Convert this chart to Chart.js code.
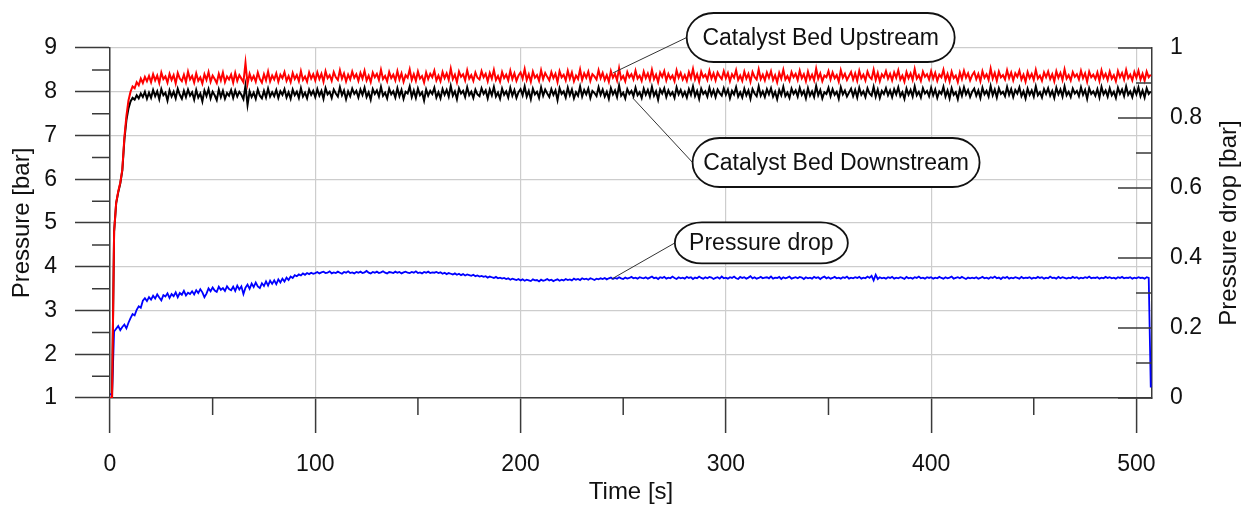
<!DOCTYPE html>
<html>
<head>
<meta charset="utf-8">
<script src="https://cdn.jsdelivr.net/npm/chart.js@4.4.1/dist/chart.umd.min.js"></script>
<style>
  html, body { margin: 0; padding: 0; background: #fff; }
  canvas { display: block; }
</style>
</head>
<body>
<canvas id="chart" width="1243" height="507"></canvas>
<script>
// sample times [s]
const seconds = [
  0,1,2,3,4,5,6,7,8,9,10,11,12,13,14,15,16,17,18,19,
  20,21,22,23,24,25,26,27,28,29,30,31,32,33,34,35,36,37,38,39,
  40,41,42,43,44,45,46,47,48,49,50,51,52,53,54,55,56,57,58,59,
  60,61,62,63,64,65,66,67,68,69,70,71,72,73,74,75,76,77,78,79,
  80,81,82,83,84,85,86,87,88,89,90,91,92,93,94,95,96,97,98,99,
  100,101,102,103,104,105,106,107,108,109,110,111,112,113,114,115,116,117,118,119,
  120,121,122,123,124,125,126,127,128,129,130,131,132,133,134,135,136,137,138,139,
  140,141,142,143,144,145,146,147,148,149,150,151,152,153,154,155,156,157,158,159,
  160,161,162,163,164,165,166,167,168,169,170,171,172,173,174,175,176,177,178,179,
  180,181,182,183,184,185,186,187,188,189,190,191,192,193,194,195,196,197,198,199,
  200,201,202,203,204,205,206,207,208,209,210,211,212,213,214,215,216,217,218,219,
  220,221,222,223,224,225,226,227,228,229,230,231,232,233,234,235,236,237,238,239,
  240,241,242,243,244,245,246,247,248,249,250,251,252,253,254,255,256,257,258,259,
  260,261,262,263,264,265,266,267,268,269,270,271,272,273,274,275,276,277,278,279,
  280,281,282,283,284,285,286,287,288,289,290,291,292,293,294,295,296,297,298,299,
  300,301,302,303,304,305,306,307,308,309,310,311,312,313,314,315,316,317,318,319,
  320,321,322,323,324,325,326,327,328,329,330,331,332,333,334,335,336,337,338,339,
  340,341,342,343,344,345,346,347,348,349,350,351,352,353,354,355,356,357,358,359,
  360,361,362,363,364,365,366,367,368,369,370,371,372,373,374,375,376,377,378,379,
  380,381,382,383,384,385,386,387,388,389,390,391,392,393,394,395,396,397,398,399,
  400,401,402,403,404,405,406,407,408,409,410,411,412,413,414,415,416,417,418,419,
  420,421,422,423,424,425,426,427,428,429,430,431,432,433,434,435,436,437,438,439,
  440,441,442,443,444,445,446,447,448,449,450,451,452,453,454,455,456,457,458,459,
  460,461,462,463,464,465,466,467,468,469,470,471,472,473,474,475,476,477,478,479,
  480,481,482,483,484,485,486,487,488,489,490,491,492,493,494,495,496,497,498,499,
  500,501,502,503,504,505,506,507
];

// Catalyst Bed Upstream pressure [bar]
const upstream = [
  1.00,1.00,4.80,5.46,5.72,5.92,6.22,6.95,7.45,7.80,
  8.00,8.12,8.08,8.22,8.15,8.30,8.20,8.34,8.24,8.36,
  8.22,8.40,8.26,8.37,8.20,8.44,8.29,8.35,8.21,8.41,8.27,8.38,8.19,8.43,8.30,8.24,8.39,8.22,8.46,8.28,
  8.36,8.21,8.42,8.25,8.33,8.19,8.40,8.27,8.45,8.23,8.37,8.29,8.20,8.41,8.26,8.44,8.22,8.35,8.28,8.39,
  8.21,8.43,8.25,8.38,8.30,8.22,8.66,8.18,8.41,8.27,8.36,8.23,8.44,8.29,8.21,8.40,8.26,8.46,8.24,8.37,
  8.28,8.42,8.23,8.39,8.31,8.45,8.25,8.36,8.22,8.43,8.29,8.38,8.24,8.47,8.27,8.35,8.23,8.44,8.30,8.40,
  8.26,8.44,8.29,8.41,8.23,8.47,8.31,8.38,8.25,8.45,8.33,8.27,8.49,8.30,8.42,8.24,8.39,8.28,8.46,8.32,
  8.40,8.25,8.43,8.30,8.48,8.26,8.37,8.22,8.44,8.33,8.41,8.27,8.50,8.29,8.36,8.24,8.45,8.31,8.39,8.26,
  8.47,8.28,8.42,8.23,8.38,8.32,8.51,8.27,8.40,8.25,8.46,8.30,8.36,8.21,8.44,8.29,8.41,8.33,8.48,8.26,
  8.37,8.24,8.45,8.31,8.42,8.27,8.53,8.29,8.39,8.22,8.46,8.34,8.40,8.26,8.49,8.30,8.38,8.25,8.44,8.32,
  8.28,8.47,8.33,8.41,8.24,8.43,8.30,8.50,8.27,8.36,8.23,8.45,8.31,8.39,8.26,8.48,8.29,8.42,8.25,8.37,
  8.44,8.30,8.52,8.27,8.40,8.23,8.46,8.32,8.38,8.25,8.49,8.29,8.43,8.34,8.26,8.45,8.31,8.41,8.22,8.47,
  8.33,8.39,8.26,8.48,8.30,8.44,8.24,8.37,8.29,8.51,8.27,8.42,8.32,8.46,8.25,8.40,8.35,8.28,8.49,8.31,
  8.43,8.27,8.38,8.23,8.47,8.32,8.41,8.26,8.54,8.29,8.36,8.24,8.45,8.33,8.40,8.28,8.48,8.30,8.37,8.25,
  8.46,8.31,8.42,8.27,8.50,8.29,8.39,8.22,8.44,8.34,8.47,8.26,8.41,8.30,8.37,8.24,8.49,8.32,8.43,8.28,
  8.38,8.25,8.45,8.31,8.52,8.28,8.40,8.23,8.46,8.33,8.39,8.27,8.48,8.30,8.42,8.26,8.44,8.35,8.29,8.47,
  8.31,8.43,8.24,8.40,8.32,8.49,8.27,8.37,8.25,8.46,8.30,8.41,8.23,8.45,8.34,8.28,8.51,8.29,8.39,8.26,
  8.44,8.32,8.47,8.27,8.38,8.22,8.43,8.30,8.50,8.28,8.36,8.25,8.45,8.33,8.41,8.27,8.48,8.31,8.40,8.24,
  8.46,8.29,8.39,8.26,8.53,8.30,8.42,8.24,8.37,8.33,8.47,8.28,8.44,8.31,8.38,8.23,8.49,8.32,8.41,8.27,
  8.36,8.45,8.28,8.42,8.25,8.48,8.31,8.39,8.26,8.46,8.34,8.29,8.50,8.27,8.43,8.24,8.40,8.33,8.47,8.30,
  8.41,8.26,8.44,8.32,8.49,8.28,8.37,8.23,8.45,8.31,8.42,8.27,8.52,8.30,8.38,8.25,8.46,8.34,8.40,8.28,
  8.47,8.30,8.43,8.25,8.39,8.33,8.50,8.27,8.41,8.24,8.46,8.31,8.37,8.22,8.44,8.29,8.48,8.32,8.42,8.26,
  8.38,8.45,8.29,8.41,8.24,8.47,8.32,8.40,8.27,8.53,8.30,8.43,8.25,8.46,8.33,8.38,8.28,8.49,8.31,8.44,
  8.26,8.42,8.34,8.48,8.28,8.39,8.23,8.45,8.31,8.41,8.27,8.50,8.30,8.37,8.25,8.44,8.33,8.46,8.29,8.40,
  8.24,8.47,8.32,8.43,8.27,8.51,8.30,8.38,8.26,8.45,8.34,8.40,8.28,8.48,8.31,8.42,8.23,8.46,8.33,8.39,
  8.29,8.44,8.25,8.49,8.32,8.41,8.27,8.46,8.30,8.38,8.24,8.47,8.33,8.43,8.28,8.50,8.31,8.39,8.26,8.45,
  8.32,8.48,8.28,8.41,8.25,8.46,8.33,8.39
];

// Catalyst Bed Downstream pressure [bar]
const downstream = [
  1.00,1.00,4.80,5.45,5.70,5.90,6.20,6.90,7.35,7.62,
  7.78,7.86,7.82,7.92,7.85,7.96,7.88,8.00,7.84,7.98,
  7.86,8.04,7.90,8.01,7.83,8.06,7.92,7.98,7.80,8.03,7.89,8.00,7.85,8.07,7.93,7.84,8.02,7.88,8.05,7.91,
  7.99,7.82,8.04,7.87,7.96,7.78,8.03,7.90,8.06,7.85,8.00,7.92,7.81,8.05,7.88,8.02,7.84,7.97,7.91,8.04,
  7.86,8.03,7.89,8.00,7.93,7.83,8.14,7.70,8.01,7.88,7.98,7.84,8.05,7.91,7.85,8.02,7.87,8.07,7.89,7.99,
  7.90,8.04,7.86,8.01,7.93,8.06,7.87,7.99,7.84,8.05,7.92,8.00,7.86,8.08,7.89,7.98,7.85,8.05,7.93,8.02,
  7.88,8.06,7.91,8.02,7.84,8.08,7.94,8.00,7.86,8.05,7.96,7.89,8.10,7.92,8.03,7.83,8.01,7.90,8.07,7.95,
  8.02,7.87,8.05,7.93,8.09,7.88,7.99,7.82,8.06,7.95,8.03,7.89,8.11,7.91,7.98,7.85,8.07,7.94,8.01,7.87,
  8.08,7.90,8.04,7.84,8.00,7.96,8.12,7.88,8.03,7.86,8.07,7.92,7.99,7.80,8.05,7.91,8.02,7.95,8.09,7.87,
  7.99,7.85,8.06,7.93,8.04,7.89,8.13,7.91,8.01,7.83,8.08,7.96,8.02,7.88,8.10,7.92,8.00,7.86,8.05,7.94,
  7.90,8.08,7.95,8.03,7.85,8.05,7.92,8.11,7.89,7.98,7.84,8.07,7.93,8.01,7.87,8.09,7.91,8.04,7.86,7.99,
  8.06,7.92,8.12,7.89,8.02,7.83,8.07,7.94,8.00,7.86,8.10,7.91,8.05,7.96,7.88,8.06,7.93,8.03,7.81,8.08,
  7.95,8.01,7.87,8.09,7.92,8.05,7.85,7.99,7.91,8.12,7.89,8.04,7.94,8.07,7.86,8.02,7.97,7.90,8.10,7.93,
  8.05,7.89,8.00,7.84,8.08,7.94,8.03,7.88,8.14,7.91,7.98,7.85,8.06,7.95,8.02,7.90,8.09,7.92,7.99,7.86,
  8.07,7.93,8.04,7.89,8.11,7.91,8.01,7.82,8.05,7.96,8.08,7.88,8.03,7.92,7.99,7.86,8.10,7.94,8.04,7.90,
  8.00,7.87,8.06,7.93,8.12,7.90,8.02,7.84,8.07,7.95,8.01,7.89,8.09,7.92,8.04,7.88,8.05,7.97,7.91,8.08,
  7.93,8.05,7.85,8.02,7.94,8.10,7.89,7.99,7.87,8.07,7.92,8.03,7.84,8.06,7.96,7.90,8.12,7.91,8.01,7.88,
  8.06,7.94,8.08,7.89,8.00,7.83,8.04,7.92,8.11,7.90,7.98,7.86,8.07,7.95,8.03,7.89,8.09,7.93,8.02,7.85,
  8.08,7.91,8.01,7.88,8.13,7.92,8.04,7.85,7.99,7.95,8.09,7.90,8.06,7.93,8.00,7.84,8.10,7.94,8.03,7.89,
  7.98,8.07,7.90,8.04,7.87,8.09,7.93,8.01,7.88,8.08,7.96,7.91,8.11,7.89,8.05,7.86,8.02,7.95,8.08,7.92,
  8.03,7.88,8.06,7.94,8.10,7.90,7.99,7.84,8.07,7.93,8.04,7.89,8.12,7.92,8.00,7.87,8.08,7.96,8.02,7.90,
  8.09,7.92,8.05,7.86,8.01,7.95,8.11,7.89,8.03,7.85,8.08,7.93,7.99,7.83,8.06,7.91,8.10,7.94,8.04,7.88,
  8.00,8.07,7.91,8.03,7.86,8.09,7.94,8.02,7.89,8.13,7.92,8.05,7.87,8.08,7.95,8.00,7.90,8.11,7.93,8.06,
  7.88,8.04,7.96,8.10,7.90,8.01,7.85,8.07,7.93,8.03,7.89,8.12,7.92,7.99,7.87,8.06,7.95,8.08,7.91,8.02,
  7.86,8.09,7.94,8.05,7.89,8.12,7.92,8.00,7.88,8.07,7.96,8.02,7.90,8.10,7.93,8.04,7.84,8.08,7.95,8.01,
  7.91,8.06,7.87,8.11,7.94,8.03,7.89,8.08,7.92,8.00,7.86,8.09,7.95,8.05,7.90,8.12,7.93,8.01,7.88,8.07,
  7.94,8.10,7.90,8.03,7.87,8.08,7.95,8.01
];

// pressure drop [bar], right axis
const pressureDrop = [
  0.010,0.012,0.190,0.198,0.206,0.194,0.203,0.210,0.199,0.215,0.228,0.240,0.236,0.252,0.262,0.258,0.278,0.285,0.277,0.288,
  0.281,0.292,0.284,0.296,0.287,0.279,0.294,0.290,0.299,0.286,0.297,0.291,0.302,0.288,0.300,0.295,0.306,0.293,0.301,0.297,
  0.305,0.296,0.308,0.300,0.311,0.302,0.288,0.298,0.313,0.305,0.316,0.307,0.303,0.318,0.309,0.314,0.306,0.319,0.311,0.308,
  0.318,0.306,0.321,0.310,0.319,0.297,0.315,0.324,0.312,0.327,0.317,0.330,0.319,0.314,0.328,0.320,0.333,0.321,0.335,0.326,
  0.336,0.325,0.339,0.330,0.341,0.333,0.344,0.337,0.347,0.343,0.351,0.348,0.353,0.350,0.356,0.352,0.357,0.354,0.358,0.355,
  0.357,0.360,0.356,0.359,0.361,0.357,0.358,0.362,0.356,0.359,0.357,0.361,0.358,0.355,0.360,0.358,0.362,0.357,0.359,0.356,
  0.360,0.358,0.361,0.357,0.359,0.363,0.358,0.356,0.360,0.358,0.361,0.357,0.359,0.362,0.358,0.356,0.360,0.359,0.357,0.361,
  0.358,0.360,0.356,0.359,0.361,0.358,0.357,0.360,0.358,0.362,0.357,0.359,0.356,0.360,0.358,0.361,0.357,0.359,0.358,0.360,
  0.357,0.359,0.355,0.358,0.354,0.357,0.355,0.353,0.356,0.352,0.355,0.351,0.354,0.350,0.353,0.351,0.349,0.352,0.348,0.350,
  0.347,0.349,0.346,0.348,0.344,0.347,0.345,0.343,0.346,0.342,0.344,0.341,0.343,0.340,0.342,0.338,0.341,0.339,0.337,0.340,
  0.336,0.339,0.335,0.338,0.336,0.334,0.339,0.336,0.337,0.333,0.338,0.335,0.337,0.340,0.336,0.338,0.334,0.337,0.339,0.335,
  0.338,0.336,0.340,0.337,0.339,0.336,0.341,0.338,0.340,0.337,0.342,0.339,0.341,0.338,0.342,0.340,0.337,0.341,0.339,0.342,
  0.340,0.343,0.339,0.342,0.344,0.340,0.343,0.341,0.345,0.342,0.340,0.344,0.341,0.343,0.346,0.342,0.344,0.341,0.345,0.343,
  0.342,0.345,0.341,0.344,0.347,0.342,0.344,0.340,0.345,0.343,0.346,0.341,0.344,0.342,0.347,0.343,0.340,0.345,0.342,0.344,
  0.341,0.346,0.343,0.345,0.340,0.344,0.342,0.347,0.343,0.341,0.345,0.342,0.346,0.344,0.340,0.343,0.345,0.341,0.347,0.342,
  0.344,0.341,0.345,0.343,0.347,0.342,0.340,0.346,0.343,0.345,0.341,0.344,0.348,0.342,0.345,0.341,0.343,0.346,0.342,0.344,
  0.345,0.342,0.347,0.341,0.344,0.343,0.346,0.340,0.345,0.342,0.344,0.347,0.341,0.343,0.345,0.342,0.346,0.344,0.340,0.345,
  0.342,0.344,0.341,0.346,0.343,0.345,0.340,0.344,0.347,0.342,0.345,0.341,0.343,0.346,0.342,0.344,0.341,0.345,0.343,0.347,
  0.341,0.344,0.342,0.345,0.343,0.346,0.341,0.344,0.342,0.347,0.343,0.349,0.336,0.352,0.340,0.345,0.342,0.344,0.341,0.345,
  0.343,0.346,0.341,0.344,0.342,0.345,0.343,0.340,0.346,0.342,0.344,0.341,0.345,0.343,0.347,0.342,0.344,0.341,0.345,0.343,
  0.345,0.341,0.344,0.342,0.346,0.343,0.341,0.345,0.342,0.344,0.347,0.341,0.343,0.345,0.342,0.346,0.343,0.340,0.344,0.342,
  0.344,0.342,0.345,0.341,0.343,0.346,0.342,0.344,0.341,0.345,0.343,0.347,0.342,0.344,0.340,0.345,0.343,0.346,0.341,0.344,
  0.342,0.345,0.343,0.341,0.346,0.342,0.344,0.343,0.345,0.341,0.344,0.342,0.346,0.343,0.345,0.341,0.344,0.342,0.347,0.343,
  0.344,0.341,0.346,0.342,0.345,0.343,0.341,0.344,0.342,0.346,0.343,0.345,0.341,0.344,0.342,0.345,0.343,0.347,0.342,0.344,
  0.343,0.345,0.341,0.344,0.342,0.346,0.343,0.345,0.342,0.344,0.341,0.345,0.343,0.346,0.342,0.344,0.343,0.345,0.341,0.344,
  0.342,0.345,0.343,0.344,0.341,0.345,0.343,0.030
];

// axis ticks
const timeTicks = [0, 100, 200, 300, 400, 500];
const timeMinorTicks = [50, 150, 250, 350, 450];
const pressureTicks = [1, 2, 3, 4, 5, 6, 7, 8, 9];
const pressureMinorTicks = [1.5, 2.5, 3.5, 4.5, 5.5, 6.5, 7.5, 8.5];
const dropTicks = [0, 0.2, 0.4, 0.6, 0.8, 1];
const dropMinorTicks = [0.1, 0.3, 0.5, 0.7, 0.9];

// callout labels
const calloutTexts = ['Catalyst Bed Upstream', 'Catalyst Bed Downstream', 'Pressure drop'];

const FONT = '"Liberation Sans", Arial, Helvetica, sans-serif';
const GRID = '#cdcdcd';
const AXIS = '#3a3a3a';
const TEXT = '#111';

// box centre and leader target in data units of the given axis, box size in px
const calloutLayout = [
  { axis: 'y',  cx: 346.2, cy: 9.24,  w: 268, h: 49, tx: 245.0, ty: 8.43 },
  { axis: 'y',  cx: 353.7, cy: 6.383, w: 287, h: 49, tx: 254.6, ty: 7.86 },
  { axis: 'y2', cx: 317.3, cy: 0.443, w: 173, h: 41, tx: 244.4, ty: 0.340 }
];

const toPoints = (vals) => seconds.map((t, i) => ({ x: t, y: vals[i] }));

const decor = {
  id: 'decor',
  afterDraw(chart) {
    const { ctx, chartArea: a, scales: { x, y, y2 } } = chart;
    ctx.save();
    // minor ticks and the inward right-axis ticks
    ctx.strokeStyle = AXIS;
    ctx.lineWidth = 1.5;
    ctx.beginPath();
    timeMinorTicks.forEach(v => {
      const px = x.getPixelForValue(v);
      ctx.moveTo(px, a.bottom); ctx.lineTo(px, a.bottom + 17);
    });
    pressureMinorTicks.forEach(v => {
      const py = y.getPixelForValue(v);
      ctx.moveTo(a.left - 18, py); ctx.lineTo(a.left, py);
    });
    dropTicks.forEach(v => {
      const py = y2.getPixelForValue(v);
      ctx.moveTo(a.right - 34, py); ctx.lineTo(a.right, py);
    });
    dropMinorTicks.forEach(v => {
      const py = y2.getPixelForValue(v);
      ctx.moveTo(a.right - 16, py); ctx.lineTo(a.right, py);
    });
    ctx.stroke();

    // right axis title, reading bottom to top
    ctx.save();
    ctx.translate(a.right + 77, (a.top + a.bottom) / 2);
    ctx.rotate(-Math.PI / 2);
    ctx.font = '24px ' + FONT;
    ctx.fillStyle = TEXT;
    ctx.textAlign = 'center';
    ctx.textBaseline = 'middle';
    ctx.fillText('Pressure drop [bar]', 0, 0);
    ctx.restore();

    // callouts
    calloutLayout.forEach((c, i) => {
      const sy = chart.scales[c.axis];
      const bx = x.getPixelForValue(c.cx);
      const by = sy.getPixelForValue(c.cy);
      const left = bx - c.w / 2, right = bx + c.w / 2;
      const top = by - c.h / 2, bottom = by + c.h / 2;
      const rx = 27, ry = c.h / 2;

      ctx.strokeStyle = '#333';
      ctx.lineWidth = 1;
      ctx.beginPath();
      ctx.moveTo(left, by);
      ctx.lineTo(x.getPixelForValue(c.tx), sy.getPixelForValue(c.ty));
      ctx.stroke();

      ctx.beginPath();
      ctx.moveTo(left + rx, top);
      ctx.lineTo(right - rx, top);
      ctx.ellipse(right - rx, by, rx, ry, 0, -Math.PI / 2, Math.PI / 2);
      ctx.lineTo(left + rx, bottom);
      ctx.ellipse(left + rx, by, rx, ry, 0, Math.PI / 2, Math.PI * 1.5);
      ctx.closePath();
      ctx.fillStyle = '#fff';
      ctx.fill();
      ctx.strokeStyle = '#111';
      ctx.lineWidth = 1.8;
      ctx.stroke();

      ctx.font = '23px ' + FONT;
      ctx.fillStyle = TEXT;
      ctx.textAlign = 'center';
      ctx.textBaseline = 'middle';
      ctx.fillText(calloutTexts[i], bx, by + 1);
    });
    ctx.restore();
  }
};

const tickFont = { family: FONT, size: 23 };
const titleFont = { family: FONT, size: 24 };

new Chart(document.getElementById('chart'), {
  type: 'line',
  data: {
    datasets: [
      { label: 'Catalyst Bed Upstream', data: toPoints(upstream), borderColor: '#ff0000', borderWidth: 2, yAxisID: 'y', order: 0 },
      { label: 'Catalyst Bed Downstream', data: toPoints(downstream), borderColor: '#000000', borderWidth: 2, yAxisID: 'y', order: 1 },
      { label: 'Pressure drop', data: toPoints(pressureDrop), borderColor: '#0000ff', borderWidth: 1.8, yAxisID: 'y2', order: 2 }
    ]
  },
  options: {
    responsive: false,
    devicePixelRatio: 1,
    animation: false,
    layout: { padding: { top: 48, left: 0, right: 0, bottom: 0 } },
    elements: { point: { radius: 0 }, line: { tension: 0 } },
    plugins: { legend: { display: false }, tooltip: { enabled: false } },
    scales: {
      x: {
        type: 'linear', min: 0, max: 507.6,
        afterBuildTicks: s => { s.ticks = timeTicks.map(v => ({ value: v })); },
        afterFit: s => { s.height = 109; },
        grid: { color: GRID, lineWidth: 1.2, tickColor: AXIS, tickLength: 35, tickWidth: 1.5 },
        border: { color: AXIS, width: 1.5 },
        ticks: { color: TEXT, font: tickFont, padding: 18, maxRotation: 0, callback: v => String(v) },
        title: { display: true, text: 'Time [s]', color: TEXT, font: titleFont, padding: { top: 0, bottom: 0 } }
      },
      y: {
        position: 'left', min: 1, max: 9,
        afterBuildTicks: s => { s.ticks = pressureTicks.map(v => ({ value: v })); },
        afterFit: s => { s.width = 110; },
        grid: { color: GRID, lineWidth: 1.2, tickColor: AXIS, tickLength: 35, tickWidth: 1.5 },
        border: { color: AXIS, width: 1.5 },
        ticks: { color: TEXT, font: tickFont, padding: 18, callback: v => String(v) },
        title: { display: true, text: 'Pressure [bar]', color: TEXT, font: titleFont, padding: { top: 8, bottom: 0 } }
      },
      y2: {
        position: 'right', min: 0, max: 1,
        afterBuildTicks: s => { s.ticks = dropTicks.map(v => ({ value: v })); },
        afterFit: s => { s.width = 91; },
        grid: { drawOnChartArea: false, drawTicks: false, color: AXIS },
        border: { color: AXIS, width: 1.5 },
        ticks: { color: TEXT, font: tickFont, padding: 18, callback: v => String(v) }
      }
    }
  },
  plugins: [decor]
});
</script>
</body>
</html>
